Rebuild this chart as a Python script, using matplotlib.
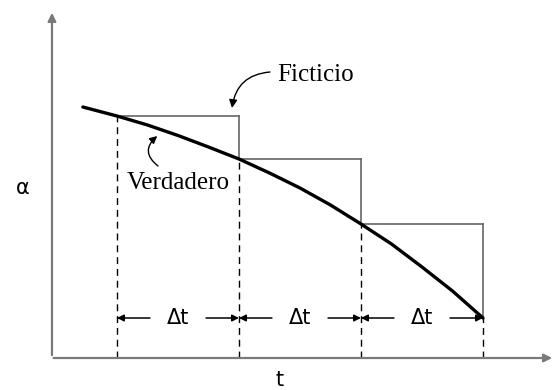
import matplotlib.pyplot as plt

# curva verdadera alpha(t)
t_curve = [0.72, 1.0, 1.25, 1.5, 1.75, 2.0, 2.25, 2.5, 2.75, 3.0, 3.25, 3.5, 3.75, 4.0]
a_curve = [2.51, 2.42, 2.33, 2.225, 2.11, 1.99, 1.85, 1.70, 1.53, 1.34, 1.14, 0.91, 0.67, 0.40]

# nodos de tiempo y escalones "ficticios"
t_nodes = [1.0, 2.0, 3.0, 4.0]
a_nodes = [2.42, 1.99, 1.34, 0.40]

fig = plt.figure(figsize=(5.59, 3.90), dpi=100)
ax = fig.add_axes([0, 0, 1, 1])
ax.set_xlim(0.041, 4.623)
ax.set_ylim(-0.32, 3.58)
ax.axis('off')

# ejes con flecha
x0 = 0.467
ax.annotate('', xy=(x0, 3.48), xytext=(x0, 0.0),
            arrowprops=dict(arrowstyle='-|>', color='#7a7a7a', lw=1.6, mutation_scale=12))
ax.annotate('', xy=(4.59, 0.0), xytext=(x0 - 0.01, 0.0),
            arrowprops=dict(arrowstyle='-|>', color='#7a7a7a', lw=1.6, mutation_scale=12))

# escalones (valor ficticio constante en cada intervalo)
for i in range(3):
    ax.plot([t_nodes[i], t_nodes[i + 1]], [a_nodes[i], a_nodes[i]], color='#666666', lw=1.2)
    ax.plot([t_nodes[i + 1], t_nodes[i + 1]], [a_nodes[i], a_nodes[i + 1]], color='#666666', lw=1.2)

# lineas de trazos verticales
for tn, an in zip(t_nodes, a_nodes):
    ax.plot([tn, tn], [0, an], color='black', lw=1.0, linestyle=(0, (5, 3.5)))

# curva verdadera
ax.plot(t_curve, a_curve, color='black', lw=2.4, solid_capstyle='round', solid_joinstyle='round')

# cotas Delta t
ya = a_nodes[-1]
for i in range(3):
    left, right = t_nodes[i], t_nodes[i + 1]
    mid = (left + right) / 2
    ax.annotate('', xy=(left, ya), xytext=(left + 0.27, ya),
                arrowprops=dict(arrowstyle='-|>', color='black', lw=1.1, mutation_scale=10,
                                shrinkA=0, shrinkB=0))
    ax.annotate('', xy=(right, ya), xytext=(right - 0.27, ya),
                arrowprops=dict(arrowstyle='-|>', color='black', lw=1.1, mutation_scale=10,
                                shrinkA=0, shrinkB=0))
    ax.text(mid, ya, 'Δt', ha='center', va='center', fontsize=15, family='DejaVu Sans')

# etiquetas
ax.text(2.311, 2.83, 'Ficticio', ha='left', va='center', fontsize=18, family='Liberation Serif')
ax.annotate('', xy=(1.943, 2.50), xytext=(2.254, 2.86),
            arrowprops=dict(arrowstyle='-|>', color='black', lw=1.0, mutation_scale=12,
                            connectionstyle='arc3,rad=0.4', shrinkA=0, shrinkB=0))

ax.text(1.082, 1.75, 'Verdadero', ha='left', va='center', fontsize=18, family='Liberation Serif')
ax.annotate('', xy=(1.33, 2.22), xytext=(1.336, 1.92),
            arrowprops=dict(arrowstyle='-|>', color='black', lw=1.0, mutation_scale=11,
                            connectionstyle='arc3,rad=-0.6', shrinkA=0, shrinkB=0))

ax.text(0.23, 1.70, 'α', ha='center', va='center', fontsize=15, family='DejaVu Sans')
ax.text(2.336, -0.22, 't', ha='center', va='center', fontsize=15, family='DejaVu Sans')

fig.savefig('out.png', dpi=100)
